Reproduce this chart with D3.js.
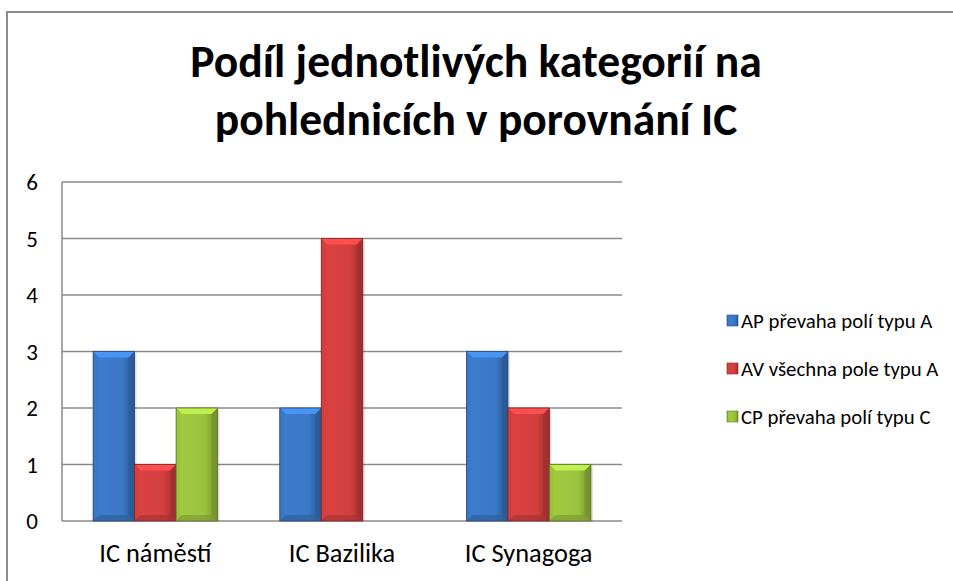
<!DOCTYPE html>
<html>
<head>
<meta charset="utf-8">
<script src="https://cdn.jsdelivr.net/npm/d3@7"></script>
<style>
  body { margin: 0; background: #fff; }
  svg { display: block; font-family: Carlito, Lato, "Open Sans", sans-serif; }
</style>
</head>
<body>
<svg width="953" height="581"></svg>
<script>
// data
var categories = ["IC náměstí", "IC Bazilika", "IC Synagoga"];
var seriesNames = ["AP převaha polí typu A", "AV všechna pole typu A", "CP převaha polí typu C"];
var apValues = [3, 2, 3];
var avValues = [1, 5, 2];
var cpValues = [2, 0, 1];
var yTicks = [0, 1, 2, 3, 4, 5, 6];
var titleLines = ["Podíl jednotlivých kategorií na", "pohlednicích v porovnání IC"];

var colors = ["#3b78c6", "#d33f3f", "#9bc23e"];
var seriesValues = [apValues, avValues, cpValues];

var svg = d3.select("svg");

// scale a text's font size so it spans the given width
function fitSize(sample, base, target, bold) {
    var t = svg.append("text").style("font-size", base + "px")
        .style("font-weight", bold ? "bold" : "normal").text(sample);
    var len = t.node().getComputedTextLength();
    t.remove();
    return base * target / len;
}

// chart area border (right/bottom edges fall outside the window)
svg.append("rect")
    .attr("x", 7).attr("y", 12)
    .attr("width", 960).attr("height", 600)
    .attr("fill", "#fff")
    .attr("stroke", "#8c8c8c")
    .attr("stroke-width", 2);

// gradients for bevelled bars
var defs = svg.append("defs");
colors.forEach(function(c, i) {
    var g = defs.append("linearGradient").attr("id", "grad" + i)
        .attr("x1", "0").attr("x2", "1").attr("y1", "0").attr("y2", "0");
    g.append("stop").attr("offset", "0%").attr("stop-color", d3.color(c).darker(0.5));
    g.append("stop").attr("offset", "15%").attr("stop-color", d3.color(c).brighter(0.1));
    g.append("stop").attr("offset", "70%").attr("stop-color", c);
    g.append("stop").attr("offset", "100%").attr("stop-color", d3.color(c).darker(0.9));
});

var plot = {left: 62, right: 622, top: 182, bottom: 521};

var x0 = d3.scaleBand().domain(categories).range([plot.left, plot.right]);
var x1 = d3.scaleBand().domain(d3.range(seriesNames.length))
    .range([0, x0.bandwidth()]).paddingInner(0).paddingOuter(0.75);
var y = d3.scaleLinear().domain([0, 6]).range([plot.bottom, plot.top]);

// gridlines
svg.append("g").selectAll("line")
    .data(yTicks)
    .enter().append("line")
    .attr("x1", plot.left).attr("x2", plot.right)
    .attr("y1", function(d) { return y(d); })
    .attr("y2", function(d) { return y(d); })
    .attr("stroke", "#8a8a8a")
    .attr("stroke-width", 1.5);

// left axis line
svg.append("line")
    .attr("x1", plot.left).attr("x2", plot.left)
    .attr("y1", plot.top).attr("y2", plot.bottom)
    .attr("stroke", "#8a8a8a").attr("stroke-width", 1.5);

// y tick labels
svg.append("g").selectAll("text")
    .data(yTicks)
    .enter().append("text")
    .attr("x", 38)
    .attr("y", function(d) { return y(d) + 8; })
    .attr("text-anchor", "end")
    .style("font-size", "23px")
    .attr("fill", "#000")
    .text(function(d) { return d; });

// category labels
var catSize = fitSize(categories[0], 20, 112, false);
svg.append("g").selectAll("text")
    .data(categories)
    .enter().append("text")
    .attr("x", function(d) { return x0(d) + x0.bandwidth() / 2; })
    .attr("y", 562)
    .attr("text-anchor", "middle")
    .style("font-size", catSize.toFixed(1) + "px")
    .text(function(d) { return d; });

// bars
var barData = [];
categories.forEach(function(c, ci) {
    seriesValues.forEach(function(vals, si) {
        barData.push({cat: c, s: si, value: vals[ci]});
    });
});

var bev = 6;
var bars = svg.append("g").selectAll("g")
    .data(barData.filter(function(d) { return d.value > 0; }))
    .enter().append("g")
    .attr("transform", function(d) {
        return "translate(" + (x0(d.cat) + x1(d.s)) + "," + y(d.value) + ")";
    });

bars.each(function(d) {
    var g = d3.select(this);
    var w = x1.bandwidth();
    var h = y(0) - y(d.value);
    var c = colors[d.s];
    // soft shadow to the right
    g.append("rect")
        .attr("x", 2).attr("y", 2).attr("width", w).attr("height", h - 2)
        .attr("fill", "#000").attr("opacity", 0.12);
    g.append("rect")
        .attr("width", w).attr("height", h)
        .attr("fill", "url(#grad" + d.s + ")");
    // top bevel
    g.append("path")
        .attr("d", "M0,0L" + w + ",0L" + (w - bev) + "," + bev + "L" + bev + "," + bev + "Z")
        .attr("fill", d3.color(c).brighter(0.6));
    // left bevel
    g.append("path")
        .attr("d", "M0,0L" + bev + "," + bev + "L" + bev + "," + (h - bev) + "L0," + h + "Z")
        .attr("fill", d3.color(c).brighter(0.15)).attr("opacity", 0.6);
    // right bevel
    g.append("path")
        .attr("d", "M" + w + ",0L" + (w - bev) + "," + bev + "L" + (w - bev) + "," + (h - bev) + "L" + w + "," + h + "Z")
        .attr("fill", d3.color(c).darker(0.8)).attr("opacity", 0.7);
    // bottom bevel
    g.append("path")
        .attr("d", "M0," + h + "L" + bev + "," + (h - bev) + "L" + (w - bev) + "," + (h - bev) + "L" + w + "," + h + "Z")
        .attr("fill", d3.color(c).darker(0.6)).attr("opacity", 0.7);
    g.append("rect")
        .attr("width", w).attr("height", h)
        .attr("fill", "none")
        .attr("stroke", d3.color(c).darker(1.4))
        .attr("stroke-width", 0.8);
});

// title, fitted to the measured widths
var titleWidths = [572, 523];
var titleBase = [77, 135];
titleLines.forEach(function(t, i) {
    svg.append("text")
        .attr("x", 476)
        .attr("y", titleBase[i])
        .attr("text-anchor", "middle")
        .style("font-size", fitSize(t, 40, titleWidths[i], true).toFixed(1) + "px")
        .style("font-weight", "bold")
        .text(t);
});

// legend
var legSize = fitSize(seriesNames[0], 19, 191, false);
var legend = svg.append("g").selectAll("g")
    .data(seriesNames)
    .enter().append("g")
    .attr("transform", function(d, i) { return "translate(727," + (328 + i * 48) + ")"; });

legend.append("rect")
    .attr("x", 0).attr("y", -13)
    .attr("width", 11).attr("height", 11)
    .attr("fill", function(d, i) { return "url(#grad" + i + ")"; })
    .attr("stroke", function(d, i) { return d3.color(colors[i]).darker(1.2); })
    .attr("stroke-width", 0.6);

legend.append("text")
    .attr("x", 14)
    .attr("y", 0)
    .style("font-size", legSize.toFixed(1) + "px")
    .text(function(d) { return d; });
</script>
</body>
</html>
